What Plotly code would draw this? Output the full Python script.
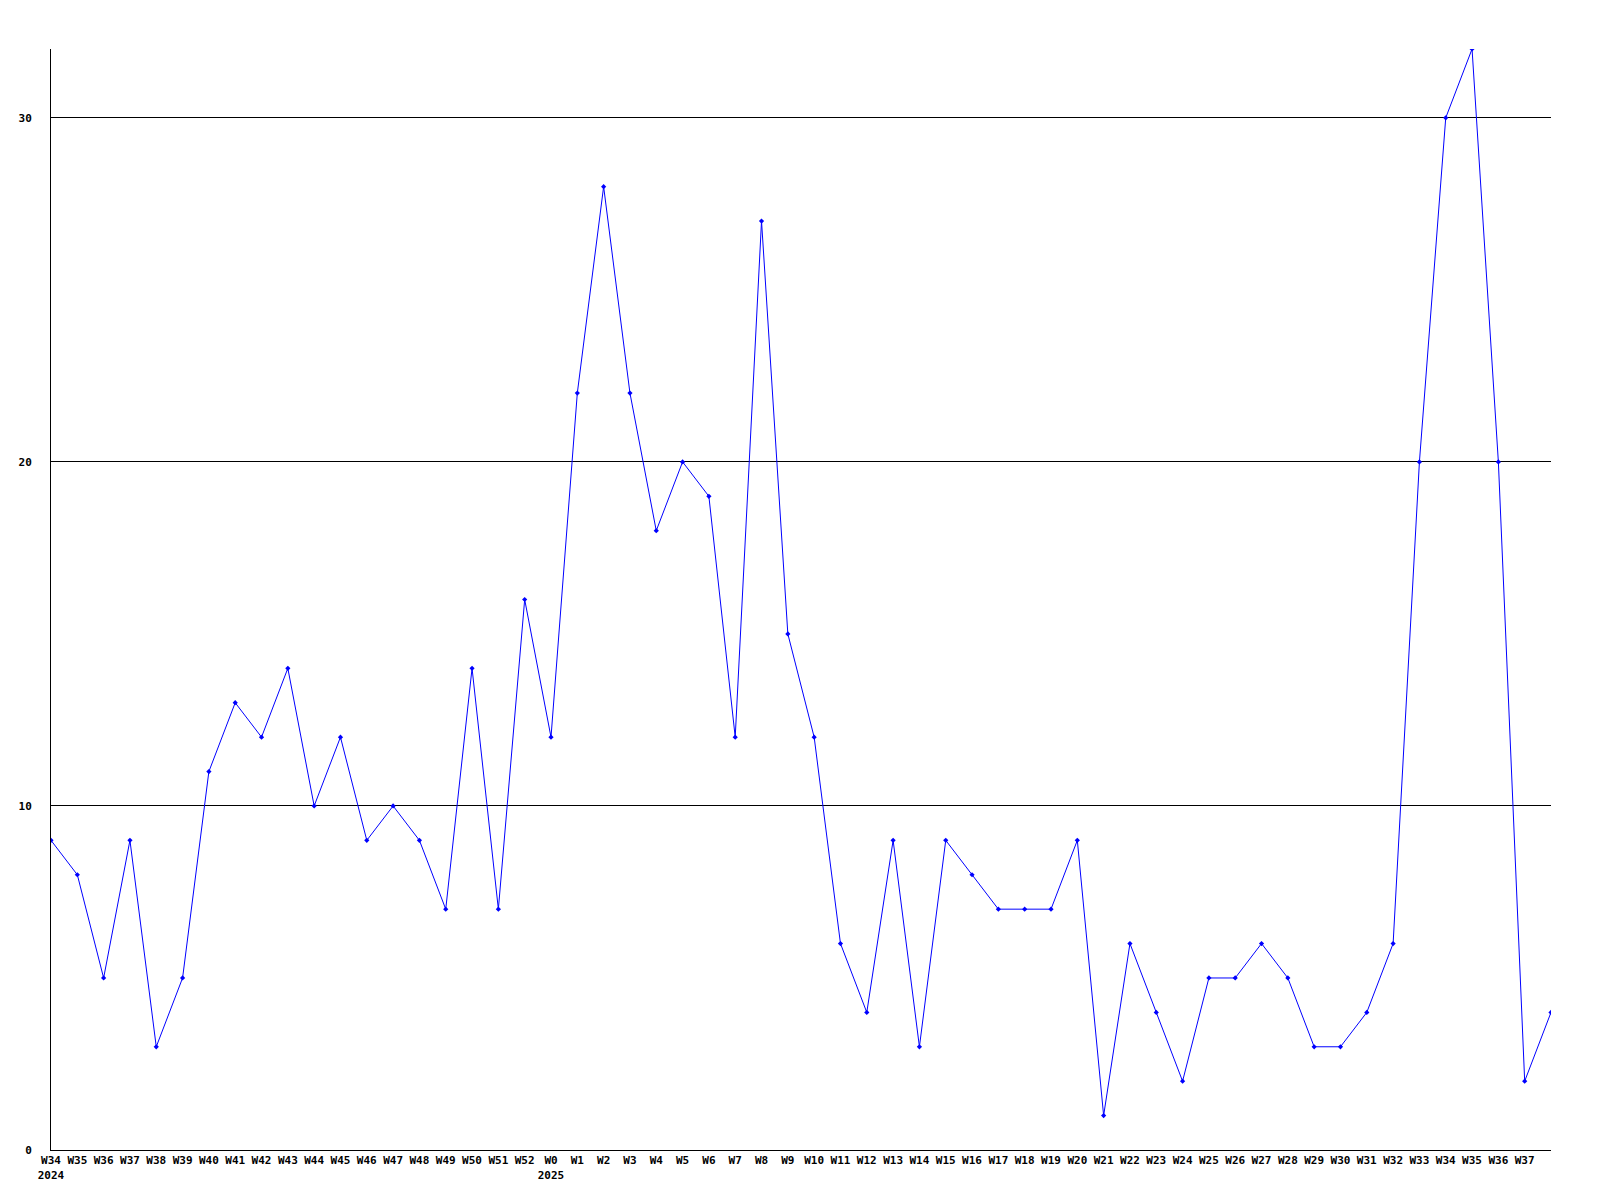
import plotly.graph_objects as go

weeks = ["W34", "W35", "W36", "W37", "W38", "W39", "W40", "W41", "W42", "W43",
         "W44", "W45", "W46", "W47", "W48", "W49", "W50", "W51", "W52", "W0",
         "W1", "W2", "W3", "W4", "W5", "W6", "W7", "W8", "W9", "W10",
         "W11", "W12", "W13", "W14", "W15", "W16", "W17", "W18", "W19", "W20",
         "W21", "W22", "W23", "W24", "W25", "W26", "W27", "W28", "W29", "W30",
         "W31", "W32", "W33", "W34", "W35", "W36", "W37", "W38"]
year_labels = {0: "2024", 19: "2025"}
values = [9, 8, 5, 9, 3, 5, 11, 13, 12, 14,
          10, 12, 9, 10, 9, 7, 14, 7, 16, 12,
          22, 28, 22, 18, 20, 19, 12, 27, 15, 12,
          6, 4, 9, 3, 9, 8, 7, 7, 7, 9,
          1, 6, 4, 2, 5, 5, 6, 5, 3, 3,
          4, 6, 20, 30, 32, 20, 2, 4]
y_ticks = [0, 10, 20, 30]

x = list(range(len(values)))
shown = len(weeks) - 1
tickvals = list(range(shown))
ticktext = [weeks[i] + ("<br>" + year_labels[i] if i in year_labels else "") for i in tickvals]

fig = go.Figure()
fig.add_trace(go.Scatter(
    x=x, y=values, mode="lines+markers",
    line=dict(color="#0000ff", width=1),
    marker=dict(symbol="diamond", size=4, color="#0000ff"),
    hoverinfo="skip",
))

font = dict(family="DejaVu Sans Mono", size=11, color="black")
fig.update_layout(
    width=1592, height=1192,
    margin=dict(l=43, r=49, t=41, b=50),
    paper_bgcolor="white", plot_bgcolor="white",
    showlegend=False,
    font=font,
    xaxis=dict(
        range=[0, len(values) - 1],
        tickmode="array", tickvals=tickvals, ticktext=ticktext,
        showgrid=False, zeroline=False,
        showline=True, linecolor="black", linewidth=1,
        ticks="", tickangle=0, automargin=False,
        tickfont=dict(family="DejaVu Sans Mono", size=11, color="black", weight="bold"),
    ),
    yaxis=dict(
        range=[0, 32],
        tickmode="array", tickvals=y_ticks, ticktext=[str(v) for v in y_ticks],
        showgrid=True, gridcolor="black", gridwidth=1,
        zeroline=False, automargin=False,
        showline=True, linecolor="black", linewidth=1,
        ticks="", ticklabelstandoff=16,
        tickfont=dict(family="DejaVu Sans Mono", size=11, color="black", weight="bold"),
    ),
)

fig.write_html("out.html")
